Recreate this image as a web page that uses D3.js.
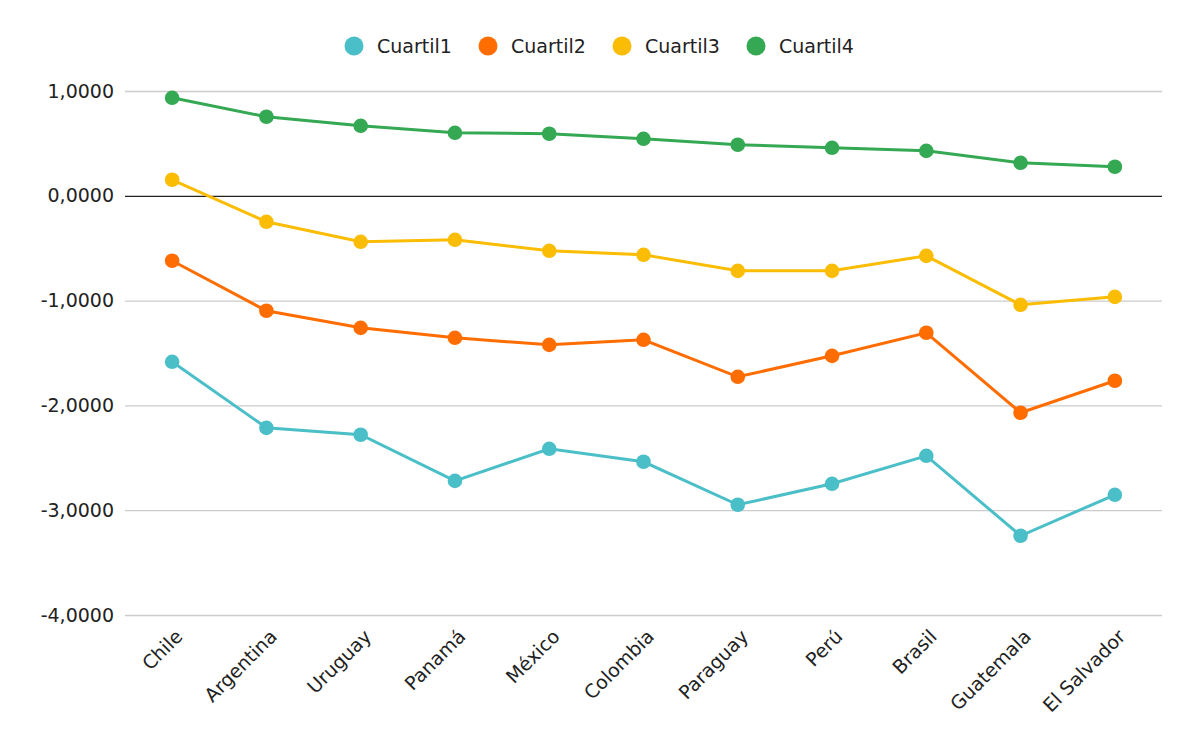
<!DOCTYPE html>
<html>
<head>
<meta charset="utf-8">
<script src="https://d3js.org/d3.v7.min.js"></script>
<style>
body { margin: 0; background: #fff; }
text { font-family: "DejaVu Sans", Verdana, sans-serif; fill: #222; }
</style>
</head>
<body>
<script>
var paises = ['Chile', 'Argentina', 'Uruguay', 'Panamá', 'México', 'Colombia',
    'Paraguay', 'Perú', 'Brasil', 'Guatemala', 'El Salvador'];
var series = ['Cuartil1', 'Cuartil2', 'Cuartil3', 'Cuartil4'];
var cuartil1 = [-1.584, -2.214, -2.280, -2.720, -2.414, -2.538, -2.948, -2.748, -2.481, -3.244, -2.853];
var cuartil2 = [-0.620, -1.097, -1.260, -1.355, -1.422, -1.374, -1.727, -1.527, -1.307, -2.070, -1.765];
var cuartil3 = [0.153, -0.248, -0.439, -0.420, -0.525, -0.563, -0.716, -0.716, -0.573, -1.040, -0.964];
var cuartil4 = [0.935, 0.754, 0.668, 0.601, 0.592, 0.544, 0.487, 0.458, 0.429, 0.315, 0.277];
var yTicks = [-4, -3, -2, -1, 0, 1];
var colores = ['#4bbfc8', '#ff6d00', '#fbbc04', '#34a853'];

var valores = [cuartil1, cuartil2, cuartil3, cuartil4];

var width = 1200, height = 747;
var margin = { top: 91, right: 38, bottom: 132, left: 125 };

var svg = d3.select('body').append('svg')
    .attr('width', width)
    .attr('height', height);

var x = d3.scalePoint()
    .domain(paises)
    .range([margin.left, width - margin.right])
    .padding(0.5);

var y = d3.scaleLinear()
    .domain([-4, 1])
    .range([height - margin.bottom, margin.top]);

var fmt = function(d) { return d3.format('.4f')(d).replace('.', ',').replace('−', '-'); };

// grid
svg.append('g')
    .selectAll('line')
    .data(yTicks)
    .enter().append('line')
    .attr('x1', margin.left)
    .attr('x2', width - margin.right)
    .attr('y1', function(d) { return y(d) + 0.5; })
    .attr('y2', function(d) { return y(d) + 0.5; })
    .attr('stroke', function(d) { return d === 0 ? '#222' : '#ccc'; })
    .attr('stroke-width', 1.3);

// y labels
svg.append('g')
    .selectAll('text')
    .data(yTicks)
    .enter().append('text')
    .attr('x', margin.left - 11)
    .attr('y', function(d) { return y(d); })
    .attr('dy', '0.35em')
    .attr('text-anchor', 'end')
    .style('font-size', '19px')
    .text(fmt);

// x labels
svg.append('g')
    .selectAll('text')
    .data(paises)
    .enter().append('text')
    .attr('transform', function(d) { return 'translate(' + (x(d) + 7) + ',' + (height - margin.bottom + 18) + ') rotate(-45)'; })
    .attr('text-anchor', 'end')
    .attr('dy', '0.35em')
    .style('font-size', '19px')
    .text(function(d) { return d; });

var line = d3.line()
    .x(function(d, i) { return x(paises[i]); })
    .y(function(d) { return y(d); });

series.forEach(function(s, k) {
    var g = svg.append('g');
    g.append('path')
        .datum(valores[k])
        .attr('d', line)
        .attr('fill', 'none')
        .attr('stroke', colores[k])
        .attr('stroke-width', 3);
    g.selectAll('circle')
        .data(valores[k])
        .enter().append('circle')
        .attr('cx', function(d, i) { return x(paises[i]); })
        .attr('cy', function(d) { return y(d); })
        .attr('r', 7.3)
        .attr('fill', colores[k]);
});

// legend
var legend = svg.append('g');
var lx = [354, 488, 622, 756];
series.forEach(function(s, k) {
    legend.append('circle')
        .attr('cx', lx[k])
        .attr('cy', 46)
        .attr('r', 9.5)
        .attr('fill', colores[k]);
    legend.append('text')
        .attr('x', lx[k] + 23)
        .attr('y', 46)
        .attr('dy', '0.35em')
        .style('font-size', '19px')
        .text(s);
});
</script>
</body>
</html>
